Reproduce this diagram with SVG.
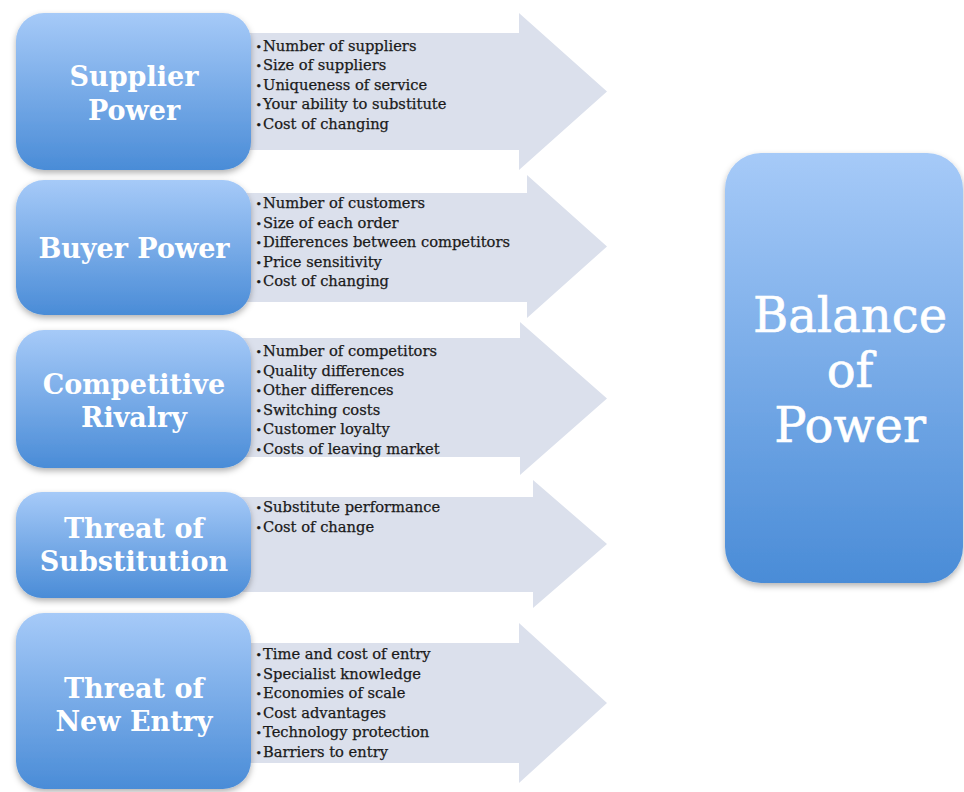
<svg xmlns="http://www.w3.org/2000/svg" width="964" height="792" viewBox="0 0 964 792">
<defs>
<linearGradient id="boxGrad" x1="0" y1="0" x2="0" y2="1">
<stop offset="0" stop-color="#a6caf8"/>
<stop offset="1" stop-color="#4a8cd7"/>
</linearGradient>
<filter id="shadow" x="-10%" y="-10%" width="120%" height="125%">
<feDropShadow dx="0" dy="3" stdDeviation="3" flood-color="#000" flood-opacity="0.3"/>
</filter>
<style>
.box{fill:url(#boxGrad);filter:url(#shadow);}
.arrow{fill:#dbe0ec;}
.lbl{font-family:"DejaVu Serif","Liberation Serif",serif;font-weight:bold;font-size:27px;fill:#ffffff;text-anchor:middle;}
.big{font-family:"DejaVu Serif","Liberation Serif",serif;font-size:48px;fill:#ffffff;text-anchor:middle;stroke:#ffffff;stroke-width:0.6px;}
.item{font-family:"DejaVu Serif","Liberation Serif",serif;font-size:14.7px;fill:#1a1a1a;stroke:#1a1a1a;stroke-width:0.25px;}
.bul{font-size:11px;}
</style>
</defs>
<rect width="964" height="792" fill="#ffffff"/>
<g id="connectors">
<polygon class="arrow" points="240,33 519,33 519,13 607,91.5 519,170 519,150 240,150"/>
<polygon class="arrow" points="240,193 527,193 527,175 607,246.5 527,318 527,302 240,302"/>
<polygon class="arrow" points="240,338 520,338 520,322 607,398.5 520,475 520,457 240,457"/>
<polygon class="arrow" points="240,497 533,497 533,480 607,544 533,608 533,592 240,592"/>
<polygon class="arrow" points="240,643 519,643 519,623 607,703 519,783 519,763 240,763"/>
</g>
<g id="supplier-power">
<rect class="box" x="16" y="13" width="235" height="157" rx="28"/>
<text class="lbl" x="134" y="86">Supplier</text>
<text class="lbl" x="134" y="120">Power</text>
<text class="item" x="255.5" y="50.5"><tspan class="bul">•</tspan><tspan x="263">Number of suppliers</tspan></text>
<text class="item" x="255.5" y="70"><tspan class="bul">•</tspan><tspan x="263">Size of suppliers</tspan></text>
<text class="item" x="255.5" y="89.5"><tspan class="bul">•</tspan><tspan x="263">Uniqueness of service</tspan></text>
<text class="item" x="255.5" y="109"><tspan class="bul">•</tspan><tspan x="263">Your ability to substitute</tspan></text>
<text class="item" x="255.5" y="128.5"><tspan class="bul">•</tspan><tspan x="263">Cost of changing</tspan></text>
</g>
<g id="buyer-power">
<rect class="box" x="16" y="180" width="235" height="135" rx="28"/>
<text class="lbl" x="134" y="258">Buyer Power</text>
<text class="item" x="255.5" y="208"><tspan class="bul">•</tspan><tspan x="263">Number of customers</tspan></text>
<text class="item" x="255.5" y="227.5"><tspan class="bul">•</tspan><tspan x="263">Size of each order</tspan></text>
<text class="item" x="255.5" y="247"><tspan class="bul">•</tspan><tspan x="263">Differences between competitors</tspan></text>
<text class="item" x="255.5" y="266.5"><tspan class="bul">•</tspan><tspan x="263">Price sensitivity</tspan></text>
<text class="item" x="255.5" y="286"><tspan class="bul">•</tspan><tspan x="263">Cost of changing</tspan></text>
</g>
<g id="competitive-rivalry">
<rect class="box" x="16" y="330" width="235" height="138" rx="28"/>
<text class="lbl" x="134" y="394">Competitive</text>
<text class="lbl" x="134" y="427">Rivalry</text>
<text class="item" x="255.5" y="356"><tspan class="bul">•</tspan><tspan x="263">Number of competitors</tspan></text>
<text class="item" x="255.5" y="375.5"><tspan class="bul">•</tspan><tspan x="263">Quality differences</tspan></text>
<text class="item" x="255.5" y="395"><tspan class="bul">•</tspan><tspan x="263">Other differences</tspan></text>
<text class="item" x="255.5" y="414.5"><tspan class="bul">•</tspan><tspan x="263">Switching costs</tspan></text>
<text class="item" x="255.5" y="434"><tspan class="bul">•</tspan><tspan x="263">Customer loyalty</tspan></text>
<text class="item" x="255.5" y="453.5"><tspan class="bul">•</tspan><tspan x="263">Costs of leaving market</tspan></text>
</g>
<g id="threat-of-substitution">
<rect class="box" x="16" y="492" width="235" height="106" rx="26"/>
<text class="lbl" x="134" y="538">Threat of</text>
<text class="lbl" x="134" y="571">Substitution</text>
<text class="item" x="255.5" y="512"><tspan class="bul">•</tspan><tspan x="263">Substitute performance</tspan></text>
<text class="item" x="255.5" y="531.5"><tspan class="bul">•</tspan><tspan x="263">Cost of change</tspan></text>
</g>
<g id="threat-of-new-entry">
<rect class="box" x="16" y="613" width="235" height="176" rx="28"/>
<text class="lbl" x="134" y="698">Threat of</text>
<text class="lbl" x="134" y="731">New Entry</text>
<text class="item" x="255.5" y="659"><tspan class="bul">•</tspan><tspan x="263">Time and cost of entry</tspan></text>
<text class="item" x="255.5" y="678.5"><tspan class="bul">•</tspan><tspan x="263">Specialist knowledge</tspan></text>
<text class="item" x="255.5" y="698"><tspan class="bul">•</tspan><tspan x="263">Economies of scale</tspan></text>
<text class="item" x="255.5" y="717.5"><tspan class="bul">•</tspan><tspan x="263">Cost advantages</tspan></text>
<text class="item" x="255.5" y="737"><tspan class="bul">•</tspan><tspan x="263">Technology protection</tspan></text>
<text class="item" x="255.5" y="756.5"><tspan class="bul">•</tspan><tspan x="263">Barriers to entry</tspan></text>
</g>
<g id="balance-of-power">
<rect class="box" x="725" y="153" width="238" height="430" rx="36"/>
<text class="big" x="850" y="332">Balance</text>
<text class="big" x="850" y="387">of</text>
<text class="big" x="850" y="442">Power</text>
</g>
</svg>
